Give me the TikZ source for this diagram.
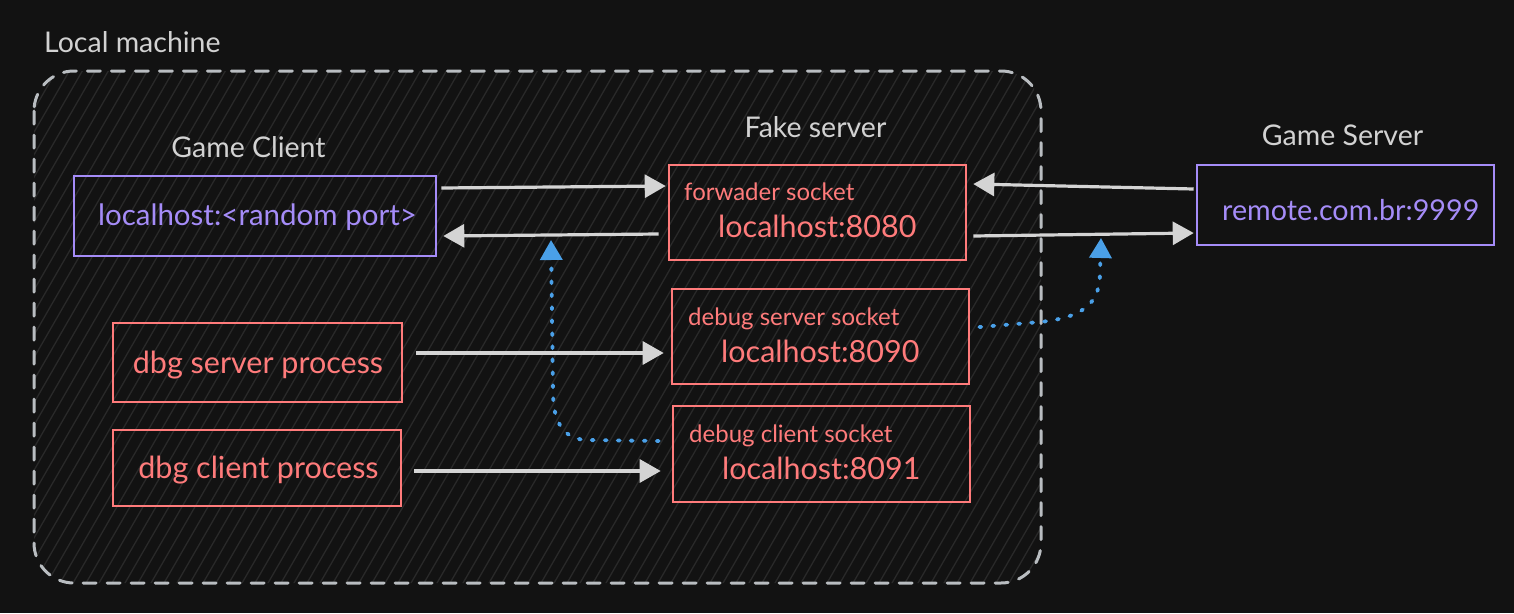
\documentclass[tikz,border=0pt]{standalone}
\usepackage{fontspec}
\setmainfont{Lato}
\usetikzlibrary{arrows.meta}
\definecolor{bg}{HTML}{121212}
\definecolor{hatchc}{HTML}{292929}
\definecolor{dashc}{HTML}{B9BDC1}
\definecolor{graytxt}{HTML}{D2D2D2}
\definecolor{arrowc}{HTML}{D4D4D4}
\definecolor{purp}{HTML}{A58CF8}
\definecolor{redc}{HTML}{FF7B7B}
\definecolor{bluec}{HTML}{4AA0E8}
\tikzset{
  boxp/.style={draw=purp, line width=2.6pt, rectangle, inner sep=0pt},
  boxr/.style={draw=redc, line width=2.6pt, rectangle, inner sep=0pt},
  lbl/.style={text=graytxt, inner sep=0pt, font=\fontsize{28.5}{32}\selectfont},
  bigr/.style={text=redc, inner sep=0pt, font=\fontsize{30.5}{34}\selectfont},
  procr/.style={text=redc, inner sep=0pt, font=\fontsize{30.5}{34}\selectfont},
  smallr/.style={text=redc, inner sep=0pt, font=\fontsize{24}{28}\selectfont},
  bigp/.style={text=purp, inner sep=0pt, font=\fontsize{29.5}{33}\selectfont},
  remp/.style={text=purp, inner sep=0pt, font=\fontsize{28.7}{32}\selectfont},
  flow/.style={draw=arrowc, line width=3.2pt, -{Triangle[length=21pt,width=23pt]}},
  dotflow/.style={draw=bluec, line width=3.8pt, line cap=round, dash pattern=on 2pt off 11pt, -{Triangle[length=20pt,width=22pt]}},
  hatch/.style={draw=hatchc, line width=1.3pt},
}
\begin{document}
\begin{tikzpicture}[x=1pt,y=-1pt]
\fill[bg] (0,0) rectangle (1514,613);
\useasboundingbox (0,0) rectangle (1514,613);
% local machine area
\begin{scope}
  \clip[rounded corners=40pt] (34,71) rectangle (1041,583);
  \foreach \i in {-360,-347,...,1050} \draw[hatch] (\i,590) -- ++(346,-600);
\end{scope}
\draw[draw=dashc, line width=3pt, dash pattern=on 13pt off 11pt, line cap=round, rounded corners=40pt] (34,71) rectangle (1041,583);
\node[lbl, anchor=base west] (lm) at (44,52) {Local machine};
% labels
\node[lbl, anchor=base] (gcl) at (248.5,157) {Game Client};
\node[lbl, anchor=base] (fsl) at (815.5,137) {Fake server};
\node[lbl, anchor=base] (gsl) at (1342.5,145) {Game Server};
% boxes
\node[boxp, minimum width=362pt, minimum height=80pt] (gc) at (255,216) {};
\node[boxr, minimum width=297pt, minimum height=95pt] (fw) at (817.5,212.5) {};
\node[boxp, minimum width=297pt, minimum height=80pt] (rs) at (1345.5,205) {};
\node[boxr, minimum width=289pt, minimum height=79pt] (ds) at (257.5,362.5) {};
\node[boxr, minimum width=297pt, minimum height=95pt] (dss) at (820.5,336.5) {};
\node[boxr, minimum width=288pt, minimum height=76pt] (dc) at (257,468) {};
\node[boxr, minimum width=297pt, minimum height=96pt] (dcs) at (821.5,454) {};
% box texts
\node[bigp, anchor=base] (gct) at (257.5,225) {localhost:<random port>};
\node[remp, anchor=base west] (rst) at (1222,220) {remote.com.br:9999};
\node[smallr, anchor=base west] (fwa) at (684,200) {forwader socket};
\node[bigr, anchor=base west] (fwb) at (718,237) {localhost:8080};
\node[smallr, anchor=base west] (dssa) at (688,325) {debug server socket};
\node[bigr, anchor=base west] (dssb) at (721,362) {localhost:8090};
\node[smallr, anchor=base west] (dcsa) at (689,442) {debug client socket};
\node[bigr, anchor=base west] (dcsb) at (722,479) {localhost:8091};
\node[procr, anchor=base] (dst) at (258,373) {dbg server process};
\node[procr, anchor=base] (dct) at (258.5,478) {dbg client process};
% connectors
\draw[flow] ([xshift=4pt,yshift=28pt]gc.east) -- ([xshift=-2pt,yshift=26.5pt]fw.west);
\draw[flow] ([xshift=-9pt,yshift=-21.5pt]fw.west) -- ([xshift=6pt,yshift=-20pt]gc.east);
\draw[flow] ([xshift=-2pt,yshift=16pt]rs.west) -- ([xshift=6pt,yshift=28.5pt]fw.east);
\draw[flow] ([xshift=6pt,yshift=-23.5pt]fw.east) -- ([xshift=-2pt,yshift=-28pt]rs.west);
\draw[flow] ([xshift=13pt,yshift=9.5pt]ds.east) -- ([xshift=-7pt,yshift=-16.5pt]dss.west);
\draw[flow] ([xshift=12pt,yshift=-3pt]dc.east) -- ([xshift=-11pt,yshift=-17pt]dcs.west);
% dotted links
\coordinate (t1) at (551,240);
\coordinate (t2) at (1101,238);
\draw[dotflow] ([xshift=-13pt,yshift=13pt]dcs.west) -- (585,440) .. controls (562,438) and (553,420) .. (553,392) -- (t1);
\draw[dotflow] ([xshift=9pt,yshift=9.5pt]dss.east) -- (1040,322) .. controls (1088,317) and (1100,300) .. (1100,272) -- (t2);
\end{tikzpicture}
\end{document}
